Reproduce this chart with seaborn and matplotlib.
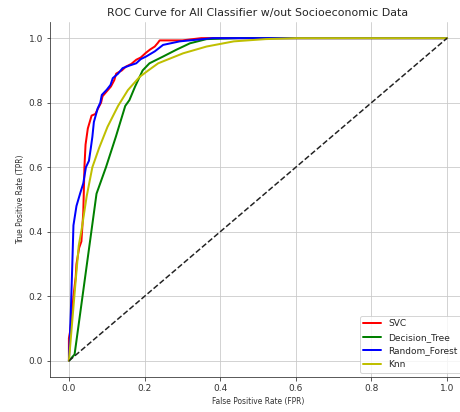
import matplotlib
matplotlib.use("Agg")
import matplotlib.pyplot as plt
import seaborn as sns

# ROC points (fpr, tpr)
svc_fpr = [0, 0, 0.003, 0.007, 0.012, 0.018, 0.02, 0.027, 0.033, 0.038, 0.04, 0.041,
           0.044, 0.05, 0.055, 0.06, 0.07, 0.076, 0.085, 0.089, 0.1, 0.111, 0.12,
           0.125, 0.14, 0.151, 0.165, 0.178, 0.19, 0.204, 0.215, 0.227, 0.235,
           0.24, 0.3, 0.35, 1.0]
svc_tpr = [0, 0.07, 0.09, 0.13, 0.2, 0.26, 0.3, 0.35, 0.37, 0.46, 0.55, 0.6,
           0.67, 0.72, 0.74, 0.76, 0.765, 0.78, 0.8, 0.82, 0.835, 0.85, 0.87,
           0.89, 0.9, 0.912, 0.92, 0.933, 0.94, 0.955, 0.965, 0.974, 0.985,
           0.993, 0.993, 1.0, 1.0]

dt_fpr = [0, 0.015, 0.073, 0.098, 0.124, 0.149, 0.16, 0.175, 0.195, 0.213,
          0.249, 0.284, 0.32, 0.364, 0.45, 1.0]
dt_tpr = [0, 0.02, 0.518, 0.6, 0.694, 0.79, 0.808, 0.85, 0.9, 0.922,
          0.943, 0.964, 0.984, 0.997, 1.0, 1.0]

rf_fpr = [0, 0.005, 0.009, 0.012, 0.02, 0.03, 0.038, 0.045, 0.053, 0.058, 0.062,
          0.066, 0.076, 0.083, 0.087, 0.1, 0.11, 0.116, 0.13, 0.142, 0.16,
          0.178, 0.19, 0.204, 0.227, 0.249, 0.293, 0.38, 1.0]
rf_tpr = [0, 0.15, 0.3, 0.42, 0.48, 0.52, 0.55, 0.6, 0.62, 0.66, 0.694,
          0.74, 0.782, 0.8, 0.824, 0.84, 0.855, 0.876, 0.89, 0.907, 0.915,
          0.922, 0.935, 0.943, 0.959, 0.979, 0.99, 1.0, 1.0]

knn_fpr = [0, 0.018, 0.026, 0.034, 0.047, 0.062, 0.08, 0.102, 0.13, 0.156, 0.187,
           0.21, 0.236, 0.302, 0.364, 0.436, 0.52, 0.6, 1.0]
knn_tpr = [0, 0.25, 0.357, 0.41, 0.51, 0.6, 0.66, 0.725, 0.79, 0.839, 0.88,
           0.9, 0.922, 0.953, 0.974, 0.99, 0.997, 1.0, 1.0]

chance = [0, 1]

curves = [
    ("SVC", svc_fpr, svc_tpr, "r"),
    ("Decision_Tree", dt_fpr, dt_tpr, "g"),
    ("Random_Forest", rf_fpr, rf_tpr, "b"),
    ("Knn", knn_fpr, knn_tpr, "y"),
]

sns.set_style("whitegrid", {"axes.edgecolor": "#333333", "xtick.bottom": True,
                            "ytick.left": True, "grid.color": "#c8c8c8"})
plt.rcParams["font.family"] = ["DejaVu Sans"]
plt.rcParams["xtick.major.size"] = 3.5
plt.rcParams["ytick.major.size"] = 3.5

fig = plt.figure(figsize=(460 / 72, 412 / 72), dpi=72)
ax = fig.add_axes([50 / 460, 35 / 412, 416 / 460, 355 / 412])

for name, fpr, tpr, col in curves:
    sns.lineplot(x=fpr, y=tpr, ax=ax, color=col, label=name, lw=2,
                 sort=False, estimator=None)
sns.lineplot(x=chance, y=chance, ax=ax, color="#222222", lw=1.5, linestyle="--",
             sort=False, estimator=None)

ax.set_xlim(-0.05, 1.05)
ax.set_ylim(-0.05, 1.05)
ax.set_xticks([0, 0.2, 0.4, 0.6, 0.8, 1.0])
ax.set_yticks([0, 0.2, 0.4, 0.6, 0.8, 1.0])
ax.tick_params(labelsize=9, colors="#333333")
ax.set_xlabel("False Positive Rate (FPR)", fontsize=7.5, color="#333333")
ax.set_ylabel("True Positive Rate (TPR)", fontsize=7.5, color="#333333")
ax.set_title("ROC Curve for All Classifier w/out Socioeconomic Data", fontsize=11)
sns.despine(ax=ax)
ax.legend(loc="lower right", fontsize=9)

fig.savefig("out.png", dpi=72)
